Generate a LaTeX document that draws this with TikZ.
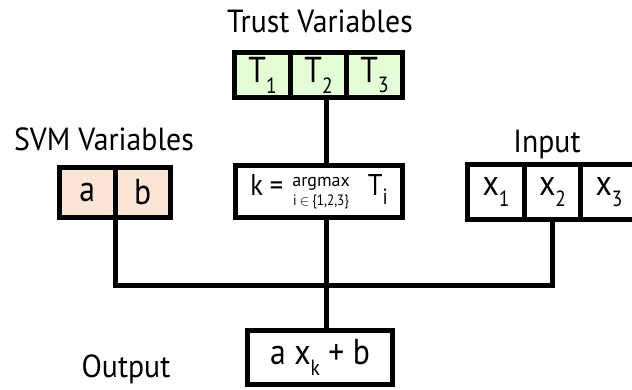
\documentclass[tikz,border=0pt]{standalone}
\usepackage{fontspec}
\setmainfont{PT Sans}[FakeStretch=0.88]
\newfontfamily\capfont{PT Sans}[FakeStretch=0.93]
\newfontfamily\widefont{PT Sans}
\definecolor{trustfill}{RGB}{229,253,215}
\definecolor{svmfill}{RGB}{253,229,214}
% lowered subscript in text font
\newcommand\lowsub[1]{\raisebox{-0.3em}{\fontsize{22}{22}\selectfont #1}}
% operator with its range set beneath it
\newcommand\opunder[2]{\raisebox{-10pt}{\vbox{\baselineskip=19pt\lineskiplimit=-100pt
  \halign{\hfil##\hfil\cr #1\cr #2\cr}}}}
\begin{document}
\begin{tikzpicture}[x=1pt,y=-1pt,
  cellbox/.style={draw, line width=5pt, inner sep=0pt, outer sep=0pt,
    fill=white, font=\fontsize{36}{36}\selectfont},
  wire/.style={line width=5pt, line join=miter},
  caption/.style={anchor=base, inner sep=0pt, font=\capfont\fontsize{32}{32}\selectfont}]
\path[use as bounding box, clip] (0,0) rectangle (632,389);

% captions
\node[caption] (ttrust) at (320,32) {Trust Variables};
\node[caption] (tsvm) at (104,150) {SVM Variables};
\node[caption] (tin) at (547,152) {Input};
\node[caption] (tout) at (126,377) {Output};

% trust variables
\begin{scope}[every node/.style={cellbox, fill=trustfill, minimum width=56pt, minimum height=45pt}]
  \node (T1) at (262.5,75) {T\lowsub{1}};
  \node (T2) at (318.5,75) {T\lowsub{2}};
  \node (T3) at (374.5,75) {T\lowsub{3}};
\end{scope}

% SVM variables
\begin{scope}[every node/.style={cellbox, fill=svmfill, minimum width=55.5pt, minimum height=50pt}]
  \node (a) at (87.25,192.5) {a};
  \node (b) at (142.75,192.5) {b};
\end{scope}

% inputs
\begin{scope}[every node/.style={cellbox, minimum width=56.5pt, minimum height=55pt}]
  \node (x1) at (496,192) {x\lowsub{1}};
  \node (x2) at (552.5,192) {x\lowsub{2}};
  \node (x3) at (609,192) {x\lowsub{3}};
\end{scope}

% selection of the most trusted index
\node[cellbox, minimum width=167pt, minimum height=52pt, font=\fontsize{30}{30}\selectfont]
  (kbox) at (319,191.5)
  {k =\hspace{9pt}\opunder{\widefont\fontsize{18}{18}\selectfont argmax}
     {\fontsize{15}{15}\selectfont i\hspace{3pt}$\in$\hspace{3pt}\{1,2,3\}}\hspace{18pt}T\lowsub{i}};

% output
\node[cellbox, minimum width=145pt, minimum height=54pt] (out) at (320,357.5)
  {a x\lowsub{k} + b};

% wiring
\coordinate (bus) at (326,285);
\draw[wire] (T2.south -| bus) -- (kbox.north -| bus);
\draw[wire] (kbox.south -| bus) -- (out.north -| bus);
\draw[wire] (a.south east) |- (bus) -| (x2.south);
\end{tikzpicture}
\end{document}
